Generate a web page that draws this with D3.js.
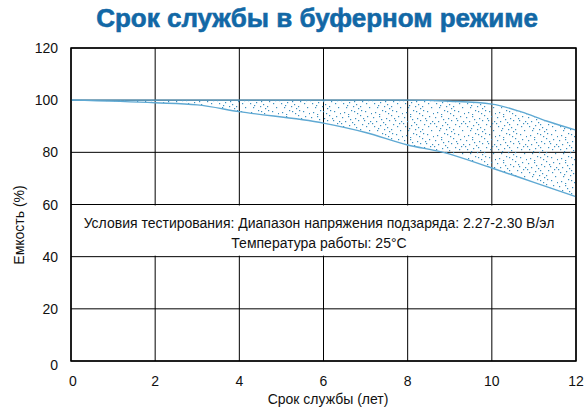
<!DOCTYPE html>
<html lang="ru">
<head>
<meta charset="UTF-8" />
<title>Срок службы в буферном режиме</title>
<script src="https://d3js.org/d3.v7.min.js"></script>
<style>
  html, body { margin: 0; padding: 0; background: #fff; }
  svg { display: block; font-family: "Liberation Sans", Arial, sans-serif; }
</style>
</head>
<body>
<svg width="587" height="414"></svg>
<script>
  // data
  const years = [0, 2, 4, 6, 8, 9, 10, 10.7, 11.3, 12];
  const upper = [100, 100, 100, 100, 100, 99.6, 98.5, 95.5, 92, 88.5];
  const lowerYears = [0, 2, 3, 4, 6, 7, 8, 8.8, 10, 11, 12];
  const lower = [100, 99, 98.2, 95.6, 91.2, 87.6, 82.8, 80.2, 74, 68.5, 63];
  const xTicks = [0, 2, 4, 6, 8, 10, 12];
  const yTicks = [0, 20, 40, 60, 80, 100, 120];
  const noteLines = [
    "Условия тестирования: Диапазон напряжения подзаряда: 2.27-2.30 В/эл",
    "Температура работы: 25°C"
  ];

  const svg = d3.select("svg");
  const pLeft = 71, pRight = 576, pTop = 48, pBottom = 361;
  const x = d3.scaleLinear().domain([0, 12]).range([pLeft, pRight]);
  const y = d3.scaleLinear().domain([0, 120]).range([pBottom, pTop]);
  const blue = "#5fa9d3";

  // stipple pattern (irregular dots in a tile)
  const defs = svg.append("defs");
  const pat = defs.append("pattern").attr("id", "dots")
    .attr("patternUnits", "userSpaceOnUse").attr("width", 31).attr("height", 23);
  const dotPos = [[1,2],[7,1],[14,3],[19,0],[4,6],[11,7],[17,5],[21,9],[2,11],[8,10],
                  [15,12],[5,15],[12,14],[19,14],[9,4],[22,3],[0,8],[13,9],[17,16],[6,13],
                  [26,1],[29,6],[25,11],[28,15],[24,19],[30,21],[3,20],[10,18],[16,21],[20,18],
                  [27,8],[23,5],[7,22],[13,19]];
  dotPos.forEach(p => pat.append("rect").attr("x", p[0]).attr("y", p[1])
    .attr("width", 1.2).attr("height", 1.2).attr("fill", "#3b8fbf"));

  // title
  svg.append("text").attr("x", 317).attr("y", 27).attr("text-anchor", "middle")
    .attr("font-size", 26).attr("font-weight", "bold").attr("fill", "#1268a6")
    .attr("stroke", "#1268a6").attr("stroke-width", 0.6)
    .text("Срок службы в буферном режиме");

  // grid
  const g = svg.append("g");
  g.selectAll(".vg").data(xTicks).join("line")
    .attr("x1", d => x(d)).attr("x2", d => x(d)).attr("y1", pTop).attr("y2", pBottom)
    .attr("stroke", "#000").attr("stroke-width", 1);
  g.selectAll(".hg").data(yTicks).join("line")
    .attr("x1", pLeft).attr("x2", pRight).attr("y1", d => y(d)).attr("y2", d => y(d))
    .attr("stroke", "#000").attr("stroke-width", 1);

  // band between curves
  const upperPts = years.map((d, i) => [x(d), y(upper[i])]);
  const lowerPts = lowerYears.map((d, i) => [x(d), y(lower[i])]);
  const line = d3.line().curve(d3.curveMonotoneX);
  const bandPath = line(upperPts) + "L" + line(lowerPts.slice().reverse()).slice(1) + "Z";
  svg.append("path").attr("d", bandPath).attr("fill", "url(#dots)").attr("stroke", "none");
  svg.append("path").attr("d", line(upperPts)).attr("fill", "none")
    .attr("stroke", blue).attr("stroke-width", 1.4);
  svg.append("path").attr("d", line(lowerPts)).attr("fill", "none")
    .attr("stroke", blue).attr("stroke-width", 1.4);

  // note box
  svg.append("rect").attr("x", pLeft + 1).attr("y", y(60) + 1)
    .attr("width", pRight - pLeft - 2).attr("height", y(40) - y(60) - 2).attr("fill", "#fff");
  svg.selectAll(".note").data(noteLines).join("text")
    .attr("x", 319).attr("y", (d, i) => 228 + i * 20).attr("text-anchor", "middle")
    .attr("font-size", 14).attr("fill", "#111").text(d => d);

  // border
  svg.append("rect").attr("x", pLeft).attr("y", pTop).attr("width", pRight - pLeft)
    .attr("height", pBottom - pTop).attr("fill", "none").attr("stroke", "#000").attr("stroke-width", 1.5);

  // tick labels
  svg.selectAll(".yl").data(yTicks).join("text")
    .attr("x", 58).attr("y", d => y(d) + 5 + (d === 0 ? 4 : 0)).attr("text-anchor", "end")
    .attr("font-size", 14).attr("fill", "#111").text(d => d);
  svg.selectAll(".xl").data(xTicks).join("text")
    .attr("x", (d, i) => x(d) + (i === 0 ? 2 : 0)).attr("y", 386).attr("text-anchor", "middle")
    .attr("font-size", 14).attr("fill", "#111").text(d => d);

  // axis titles
  svg.append("text").attr("x", 328).attr("y", 404).attr("text-anchor", "middle")
    .attr("font-size", 14).attr("fill", "#111").text("Срок службы (лет)");
  svg.append("text").attr("transform", "translate(24,225) rotate(-90)")
    .attr("text-anchor", "middle").attr("font-size", 14).attr("fill", "#111")
    .text("Емкость (%)");
</script>
</body>
</html>
